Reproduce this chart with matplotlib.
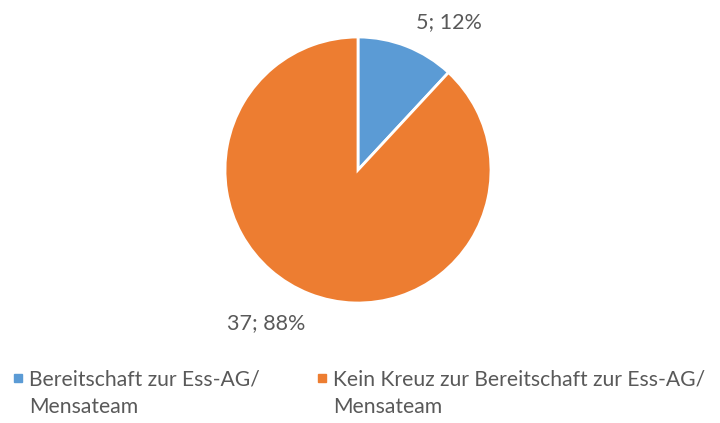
import matplotlib
matplotlib.use("Agg")
import matplotlib.pyplot as plt
from matplotlib.patches import Rectangle

categories = ["Bereitschaft zur Ess-AG/\nMensateam",
              "Kein Kreuz zur Bereitschaft zur Ess-AG/\nMensateam"]
counts = [5, 37]
colors = ["#5B9BD5", "#ED7D31"]
text_color = "#595959"

plt.rcParams['font.family'] = ['Lato', 'DejaVu Sans']

W, H = 720, 423
fig = plt.figure(figsize=(W / 100, H / 100), dpi=100)

# pie axes: centre (358, 170) px, radius 133 px
cx, cy, r = 358, 170, 133
ax = fig.add_axes([(cx - r) / W, (H - cy - r) / H, 2 * r / W, 2 * r / H])
wedges, _ = ax.pie(counts, colors=colors, startangle=90, counterclock=False,
                   radius=1.0, wedgeprops=dict(edgecolor="white", linewidth=2))
ax.set_xlim(-1, 1)
ax.set_ylim(-1, 1)
ax.set_aspect("equal")
ax.axis("off")

total = sum(counts)
label_pos = [(0.684, 1.113), (-0.69, -1.15)]
for c, (lx, ly) in zip(counts, label_pos):
    ax.text(lx, ly, f"{c}; {round(100 * c / total)}%", ha="center", va="center",
            fontsize=15.5, color=text_color, clip_on=False)

# legend
legend_x = [14, 318]
for x, lab, col in zip(legend_x, categories, colors):
    fig.patches.append(Rectangle((x / W, (H - 382) / H), 8 / W, 8 / H,
                                 transform=fig.transFigure, color=col))
    fig.text((x + 15) / W, (H - 369) / H, lab, ha="left", va="top",
             fontsize=15.2, color=text_color, linespacing=1.52)

fig.savefig("out.png", dpi=100, facecolor="white")
